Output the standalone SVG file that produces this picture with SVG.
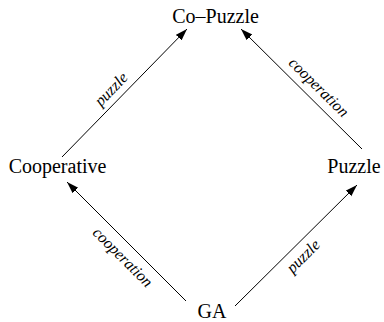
<svg xmlns="http://www.w3.org/2000/svg" width="384" height="322" viewBox="0 0 384 322">
  <style>
    .node { font-family: "Liberation Serif", "Times New Roman", serif; font-size: 20px; fill: #000; text-anchor: middle; }
    .lbl { font-family: "Liberation Serif", "Times New Roman", serif; font-size: 16px; font-style: italic; fill: #000; text-anchor: middle; }
    .edge { stroke: #000; stroke-width: 1; fill: none; marker-end: url(#arr); }
  </style>
  <defs>
    <marker id="arr" markerUnits="userSpaceOnUse" markerWidth="13" markerHeight="9" refX="12" refY="4" orient="auto">
      <path d="M0,0 L12,4 L0,8 Z" fill="#000"/>
    </marker>
  </defs>
  <rect width="384" height="322" fill="#fff"/>
  <g id="connectors">
    <line class="edge" x1="62" y1="157" x2="187" y2="29"/>
    <line class="edge" x1="362" y1="149" x2="241" y2="29"/>
    <line class="edge" x1="186" y1="301" x2="67" y2="182"/>
    <line class="edge" x1="235" y1="306" x2="357" y2="185"/>
    <text class="lbl" transform="translate(112,90) rotate(-45.7)" x="0" y="4">puzzle</text>
    <text class="lbl" transform="translate(318,88) rotate(44.7)" x="0" y="4">cooperation</text>
    <text class="lbl" transform="translate(122,258) rotate(45)" x="0" y="4">cooperation</text>
    <text class="lbl" transform="translate(304,257) rotate(-44.8)" x="0" y="4">puzzle</text>
  </g>
  <g id="co-puzzle"><text class="node" x="215.5" y="23">Co–Puzzle</text></g>
  <g id="cooperative"><text class="node" x="57.5" y="173">Cooperative</text></g>
  <g id="puzzle"><text class="node" x="354" y="173">Puzzle</text></g>
  <g id="ga"><text class="node" x="212" y="318">GA</text></g>
</svg>
